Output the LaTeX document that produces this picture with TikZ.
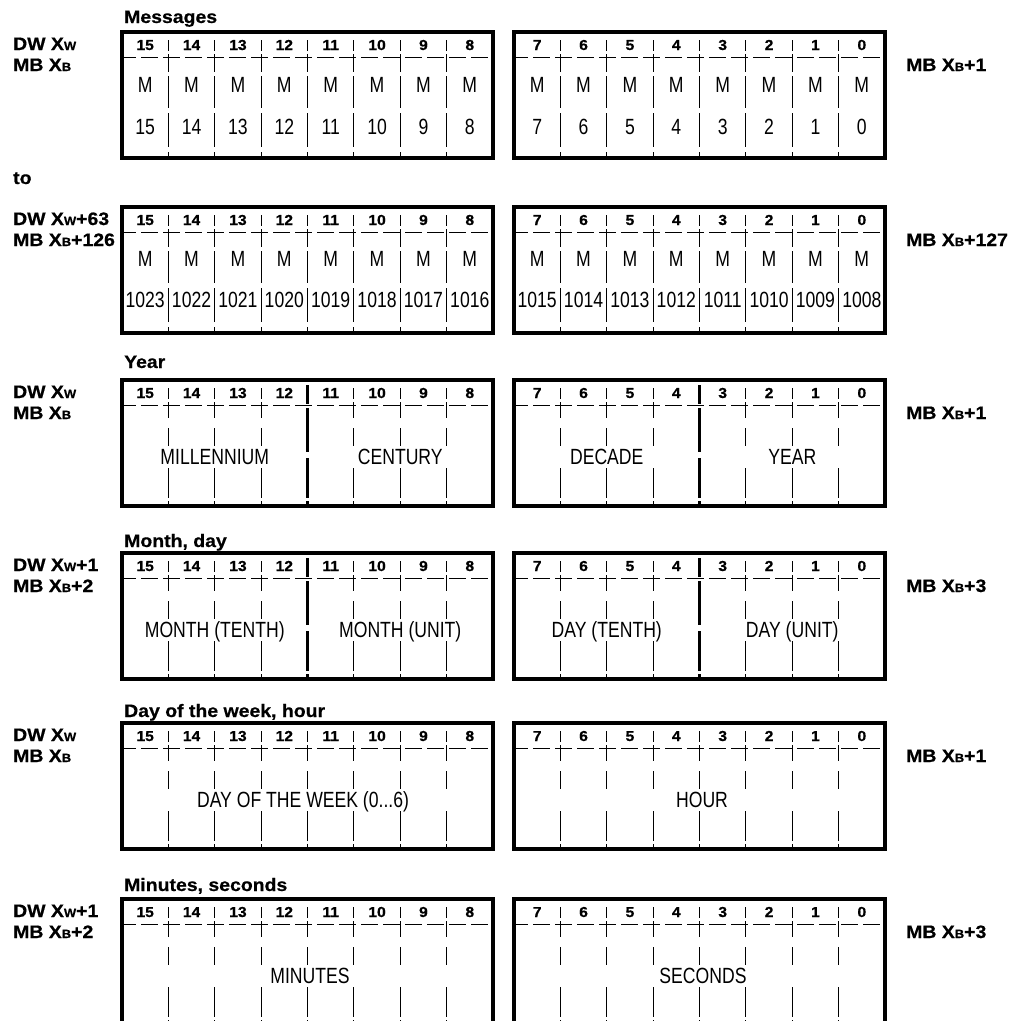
\documentclass[tikz,border=0pt]{standalone}
\usepackage{fontspec}
\newfontfamily\labfont[FakeStretch=1.08, BoldFeatures={FakeBold=0.6}]{Liberation Sans}
\newfontfamily\bodyfont[FakeStretch=0.8]{Liberation Sans}
\newcommand\smx[1]{{\fontsize{12}{12}\selectfont #1}}
\tikzset{
 lab/.style={font=\labfont\bfseries\fontsize{18}{20}\selectfont, anchor=base west, inner sep=0pt},
 bitnum/.style={font=\labfont\bfseries\fontsize{14.5}{15}\selectfont, anchor=base, inner sep=0pt},
 cell/.style={font=\bodyfont\fontsize{22}{22}\selectfont, anchor=base, inner sep=0pt},
 frame/.style={line width=3.5pt},
 divl/.style={line width=1.4pt},
 divthick/.style={line width=3pt},
 hdash/.style={line width=1.4pt, dash pattern=on 17pt off 5pt, dash phase=3pt},
}
% register frame: #1 = top y, #2 = name prefix
\newcommand\regframe[2]{%
  \foreach \xa in {122,514}{%
    \draw[hdash] (\xa,#1+25.5) -- ++(371,0);
    \draw[frame] (\xa,#1) rectangle ++(371,126);
  }%
  \foreach \i in {0,...,7}{%
    \pgfmathtruncatemacro\bl{15-\i}%
    \pgfmathtruncatemacro\br{7-\i}%
    \node[bitnum] (#2b\bl) at (145.19+46.375*\i, #1+18) {\bl};
    \node[bitnum] (#2b\br) at (537.19+46.375*\i, #1+18) {\br};
  }%
}
% dividers: #1 top y, #2 divider index list, #3 segment list, #4 style
\newcommand\dividers[4]{%
  \foreach \xa in {122,514}{%
    \foreach \k in #2{%
      \pgfmathsetmacro\xx{floor(\xa+46.375*\k)+0.5}%
      \foreach \a/\b in #3{%
        \draw[#4] (\xx, #1+\a) -- (\xx, #1+\b);
      }%
    }%
  }%
}
\begin{document}
\begin{tikzpicture}[x=1pt,y=-1pt]
\useasboundingbox (0,0) rectangle (1024,1020);
\clip (0,0) rectangle (1024,1020);

% ---------------- Messages ----------------
\node[lab] (msgtitle) at (124,23) {Messages};
\node[lab] (msgdw) at (13,50) {DW X\smx{W}};
\node[lab] (msgmb) at (13,71) {MB X\smx{B}};
\node[lab] (msgr) at (906,71) {MB X\smx{B}+1};
\regframe{32}{ma}
\dividers{32}{{1,...,7}}{{8/19,22/40,44/76,81/115,120/125}}{divl}
\foreach \i in {0,...,7}{%
  \pgfmathtruncatemacro\bl{15-\i}%
  \pgfmathtruncatemacro\br{7-\i}%
  \node[cell] (mam\bl) at (145.19+46.375*\i, 92) {M};
  \node[cell] (mam\br) at (537.19+46.375*\i, 92) {M};
  \node[cell] (man\bl) at (145.19+46.375*\i, 134) {\bl};
  \node[cell] (man\br) at (537.19+46.375*\i, 134) {\br};
}

\node[lab] (to) at (13,184) {to};

% ---------------- Messages (last word) ----------------
\node[lab] (mbdw) at (13,225) {DW X\smx{W}+63};
\node[lab] (mbmb) at (13,246) {MB X\smx{B}+126};
\node[lab] (mbr) at (906,246) {MB X\smx{B}+127};
\regframe{207}{mb}
\dividers{207}{{1,...,7}}{{8/19,22/40,44/76,81/115,120/125}}{divl}
\foreach \i in {0,...,7}{%
  \pgfmathtruncatemacro\bl{15-\i}%
  \pgfmathtruncatemacro\br{7-\i}%
  \pgfmathtruncatemacro\nl{1023-\i}%
  \pgfmathtruncatemacro\nr{1015-\i}%
  \node[cell] (mbm\bl) at (145.19+46.375*\i, 266) {M};
  \node[cell] (mbm\br) at (537.19+46.375*\i, 266) {M};
  \node[cell] (mbn\bl) at (145.19+46.375*\i, 307) {\nl};
  \node[cell] (mbn\br) at (537.19+46.375*\i, 307) {\nr};
}

% ---------------- Year ----------------
\node[lab] (yrtitle) at (124,368) {Year};
\node[lab] (yrdw) at (13,398) {DW X\smx{W}};
\node[lab] (yrmb) at (13,419) {MB X\smx{B}};
\node[lab] (yrr) at (906,419) {MB X\smx{B}+1};
\regframe{380}{yr}
\dividers{380}{{1,2,3,5,6,7}}{{8/19,22/38,48/66,88/118,121/125}}{divl}
\dividers{380}{{4}}{{5/24,28/72,78/118,121/126}}{divthick}
\node[cell] (yrf1) at (214.75,464) {MILLENNIUM};
\node[cell] (yrf2) at (400.25,464) {CENTURY};
\node[cell] (yrf3) at (606.75,464) {DECADE};
\node[cell] (yrf4) at (792.25,464) {YEAR};

% ---------------- Month, day ----------------
\node[lab] (mdtitle) at (124,547) {Month, day};
\node[lab] (mddw) at (13,571) {DW X\smx{W}+1};
\node[lab] (mdmb) at (13,592) {MB X\smx{B}+2};
\node[lab] (mdr) at (906,592) {MB X\smx{B}+3};
\regframe{553}{md}
\dividers{553}{{1,2,3,5,6,7}}{{8/19,22/38,48/66,88/118,121/125}}{divl}
\dividers{553}{{4}}{{5/24,28/72,78/118,121/126}}{divthick}
\node[cell] (mdf1) at (214.75,637) {MONTH (TENTH)};
\node[cell] (mdf2) at (400.25,637) {MONTH (UNIT)};
\node[cell] (mdf3) at (606.75,637) {DAY (TENTH)};
\node[cell] (mdf4) at (792.25,637) {DAY (UNIT)};

% ---------------- Day of the week, hour ----------------
\node[lab] (dhtitle) at (124,717) {Day of the week, hour};
\node[lab] (dhdw) at (13,741) {DW X\smx{W}};
\node[lab] (dhmb) at (13,762) {MB X\smx{B}};
\node[lab] (dhr) at (906,762) {MB X\smx{B}+1};
\regframe{723}{dh}
\dividers{723}{{1,...,7}}{{8/19,22/38,48/66,88/118,121/125}}{divl}
\node[cell] (dhf1) at (303,807) {DAY OF THE WEEK (0...6)};
\node[cell] (dhf2) at (702,807) {HOUR};

% ---------------- Minutes, seconds ----------------
\node[lab] (mstitle) at (124,891) {Minutes, seconds};
\node[lab] (msdw) at (13,917) {DW X\smx{W}+1};
\node[lab] (msmb) at (13,938) {MB X\smx{B}+2};
\node[lab] (msr) at (906,938) {MB X\smx{B}+3};
\regframe{899}{ms}
\dividers{899}{{1,...,7}}{{8/19,22/38,48/66,88/118,121/125}}{divl}
\node[cell] (msf1) at (310,983) {MINUTES};
\node[cell] (msf2) at (703,983) {SECONDS};
\end{tikzpicture}
\end{document}
